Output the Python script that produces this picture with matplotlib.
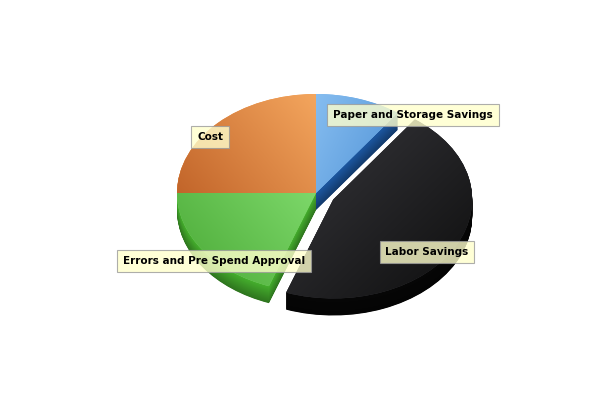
import matplotlib
matplotlib.use('Agg')
import matplotlib.pyplot as plt
import matplotlib.colors as mcolors
import numpy as np

# slice data (clockwise from 12 o'clock)
labels = ['Paper and Storage Savings', 'Labor Savings', 'Errors and Pre Spend Approval', 'Cost']
values = [10.0, 45.5, 19.5, 25.0]
explode = [0.0, 0.14, 0.0, 0.0]

# top face gradients (light end, dark end, direction of light end in degrees)
top_grad = [('#86bdf0', '#4f92d6', 150),
            ('#38383d', '#0e0e0e', 135),
            ('#7dd86a', '#4aa936', 30),
            ('#f4a65e', '#c2652a', 30)]
side_cols = ['#184a88', '#050505', '#3a9226', '#a8561e']

# label positions in picture pixels
label_pos = [(413, 115), (427, 252), (214, 261), (210, 137)]

W, H = 600, 400
RX, RY = 139, 99
K = RX / RY
CX, CY_IMG = 316, 193
DEPTH = 17


def ydat(y_img):
    return (H - y_img) * K


fig = plt.figure(figsize=(6, 4), dpi=100)
ax = fig.add_axes([0, 0, 1, 1])

cy = ydat(CY_IMG)
expl = [e * RX for e in explode]   # pie takes explode in data units
n_layers = 40
for i in range(n_layers):
    off = DEPTH * K * (1 - i / n_layers)
    t = i / n_layers
    cols = []
    for c in side_cols:
        r, g, b = mcolors.to_rgb(c)
        f = 0.8 + 0.4 * t
        cols.append((min(r * f, 1), min(g * f, 1), min(b * f, 1)))
    ax.pie(values, colors=cols, startangle=90, counterclock=False, explode=expl,
           radius=RX, center=(CX, cy - off), frame=True,
           wedgeprops=dict(linewidth=0, antialiased=True))

wedges, _ = ax.pie(values, colors=[g[0] for g in top_grad], startangle=90, counterclock=False,
                   explode=expl, radius=RX, center=(CX, cy), frame=True,
                   wedgeprops=dict(linewidth=0, antialiased=True))

# gradient fill on the top faces
for w, (c1, c2, ang) in zip(wedges, top_grad):
    ext = w.get_path().get_extents()
    x0, y0, x1, y1 = ext.x0, ext.y0, ext.x1, ext.y1
    gx, gy = np.meshgrid(np.linspace(0, 1, 120), np.linspace(0, 1, 120))
    a = np.deg2rad(ang)
    u = np.cos(a) * (gx - 0.5) + np.sin(a) * (gy - 0.5)
    u = (u - u.min()) / (u.max() - u.min())
    a1 = np.array(mcolors.to_rgb(c1))
    a2 = np.array(mcolors.to_rgb(c2))
    img = a2[None, None, :] * (1 - u[..., None]) + a1[None, None, :] * u[..., None]
    im = ax.imshow(img, extent=(x0, x1, y0, y1), origin='lower', aspect='auto',
                   interpolation='bilinear', zorder=2)
    im.set_clip_path(w)

for txt, (px, py) in zip(labels, label_pos):
    ax.text(px, ydat(py), txt, ha='center', va='center', fontsize=7.5, weight='bold',
            color='black', zorder=5,
            bbox=dict(boxstyle='square,pad=0.55', facecolor='#ffffcc', alpha=0.8,
                      edgecolor='#9a9a9a', linewidth=0.8))

ax.set_aspect('auto')
ax.set_xlim(0, W)
ax.set_ylim(0, H * K)
ax.axis('off')

fig.savefig('out.png', dpi=100, facecolor='white')
